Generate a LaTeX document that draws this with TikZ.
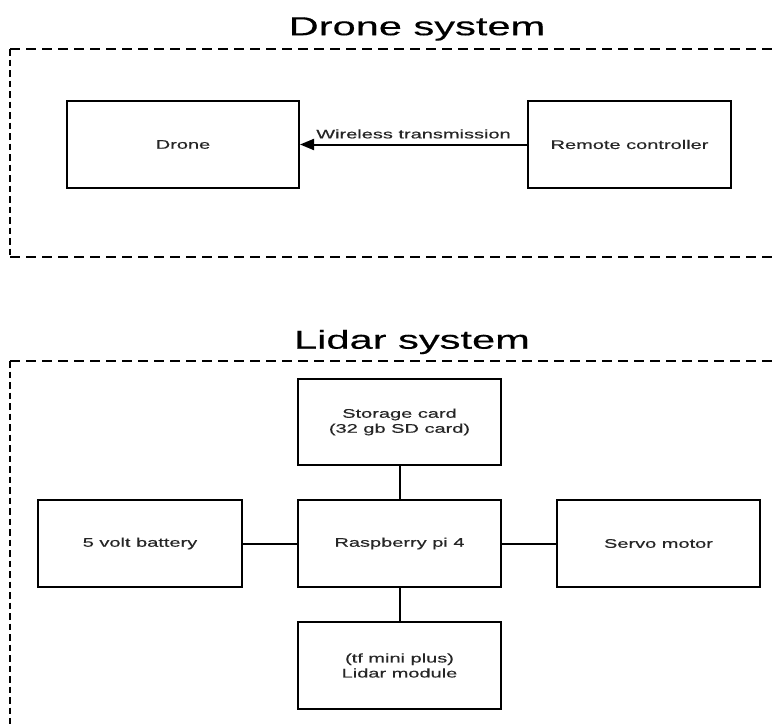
\documentclass[tikz,border=0pt]{standalone}
\usepackage{fontspec}
\usetikzlibrary{arrows.meta}
\newfontfamily\boxfont[FakeStretch=1.6,FakeBold=0.4]{Liberation Sans}
\newfontfamily\titlefont[FakeStretch=1.6,FakeBold=0.3]{Liberation Sans}
\tikzset{
  box/.style={draw=black, line width=2pt, rectangle, inner sep=2pt, align=center,
    font=\boxfont\fontsize{12.5pt}{15pt}\selectfont, text=black!85},
  title/.style={font=\titlefont\fontsize{26pt}{30pt}\selectfont, text=black, inner sep=0pt},
  hdash/.style={line width=1.8pt, dash pattern=on 10pt off 6pt},
  vdash/.style={line width=1.8pt, dash pattern=on 6.5pt off 4pt},
  conn/.style={line width=2pt},
  lbl/.style={font=\boxfont\fontsize{12.5pt}{15pt}\selectfont, text=black!85, inner sep=5pt}
}
\begin{document}
\begin{tikzpicture}[x=1pt,y=-1pt]
\useasboundingbox (0,0) rectangle (778,723);
\clip (0,0) rectangle (778,723);
\fill[white] (0,0) rectangle (778,723);
% titles
\node[title] (t1) at (417,29) {Drone system};
\node[title] (t2) at (412,342) {Lidar system};
% dashed frames
\coordinate (d1) at (10,49);
\coordinate (d2) at (800,49);
\coordinate (d3) at (10,257);
\coordinate (d4) at (800,257);
\draw[hdash] (d1) -- (d2);
\draw[hdash] (d3) -- (d4);
\draw[vdash] (d1) -- (d3);
\coordinate (l1) at (10,361);
\coordinate (l2) at (800,361);
\coordinate (l3) at (10,740);
\draw[hdash] (l1) -- (l2);
\draw[vdash] (l1) -- (l3);
% drone system
\node[box, minimum width=232pt, minimum height=87pt] (drone) at (183,144.5) {Drone};
\node[box, minimum width=203pt, minimum height=87pt] (remote) at (629.5,144.5) {Remote controller};
\draw[conn, -{Triangle[length=14pt,width=11pt]}] (remote.west) -- node[lbl, above] {Wireless transmission} (drone.east);
% lidar system
\node[box, minimum width=203pt, minimum height=86pt] (sd) at (399.5,422) {Storage card\\(32 gb SD card)};
\node[box, minimum width=203pt, minimum height=87pt] (rpi) at (399.5,543.5) {Raspberry pi 4};
\node[box, minimum width=204pt, minimum height=87pt] (bat) at (140,543.5) {5 volt battery};
\node[box, minimum width=203pt, minimum height=87pt] (servo) at (658.5,543.5) {Servo motor};
\node[box, minimum width=203pt, minimum height=87pt] (lidar) at (399.5,665.5) {(tf mini plus)\\Lidar module};
\draw[conn] (sd.south) -- (rpi.north);
\draw[conn] (bat.east) -- (rpi.west);
\draw[conn] (rpi.east) -- (servo.west);
\draw[conn] (rpi.south) -- (lidar.north);
\end{tikzpicture}
\end{document}
